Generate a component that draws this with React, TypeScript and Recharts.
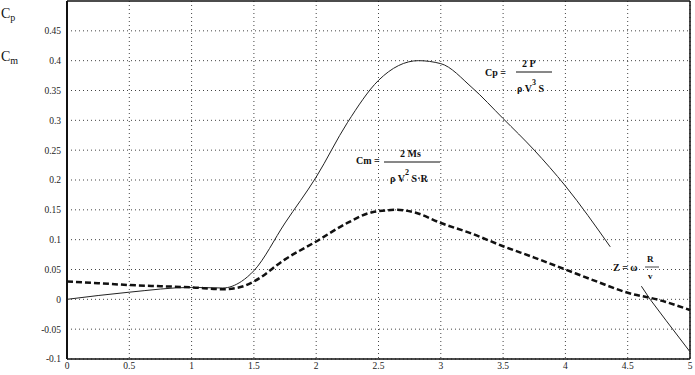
import React from "react";
import {
  LineChart,
  Line,
  XAxis,
  YAxis,
  CartesianGrid,
  ReferenceLine,
  Customized,
} from "recharts";

// Tip speed ratio values (x axis)
const xTicks = [0, 0.5, 1, 1.5, 2, 2.5, 3, 3.5, 4, 4.5, 5];
const yTicks = [-0.1, -0.05, 0, 0.05, 0.1, 0.15, 0.2, 0.25, 0.3, 0.35, 0.4, 0.45];

// Cp curve (power coefficient)
const cpX = [0, 0.5, 1.0, 1.25, 1.4, 1.5, 1.75, 2.0, 2.25, 2.5, 2.82, 3.0, 3.25, 3.5, 3.75, 4.0, 4.36];
const cpY = [0, 0.012, 0.02, 0.019, 0.03, 0.048, 0.128, 0.205, 0.296, 0.367, 0.4, 0.395, 0.355, 0.303, 0.25, 0.19, 0.088];

// Cm curve (moment coefficient)
const cmX = [0, 0.25, 0.5, 0.75, 1.0, 1.25, 1.4, 1.5, 1.75, 2.0, 2.25, 2.45, 2.65, 2.8, 3.0, 3.25, 3.5, 3.75, 4.0, 4.25, 4.5, 4.75, 5.0];
const cmY = [0.03, 0.027, 0.024, 0.022, 0.02, 0.017, 0.021, 0.03, 0.067, 0.097, 0.128, 0.146, 0.15, 0.145, 0.128, 0.11, 0.089, 0.07, 0.05, 0.03, 0.011, -0.001, -0.018];

// Z line segment
const zX = [4.61, 4.68, 4.81, 5.0];
const zY = [0.022, 0.0, -0.036, -0.088];

const cpData = cpX.map((x, i) => ({ x, y: cpY[i] }));
const cmData = cmX.map((x, i) => ({ x, y: cmY[i] }));
const zData = zX.map((x, i) => ({ x, y: zY[i] }));

const FONT = "Liberation Serif, DejaVu Serif, serif";

const fmt = (v: number) => String(Number(v.toFixed(2)));

const Annotations = () => (
  <g fontFamily={FONT} fill="#111" fontWeight="bold">
    {/* axis titles */}
    <text x={1} y={18} fontSize={14} fontWeight="normal">C<tspan fontSize={10} dy={3}>p</tspan></text>
    <text x={1} y={61} fontSize={14} fontWeight="normal">C<tspan fontSize={10} dy={3}>m</tspan></text>

    {/* Cp formula */}
    <text x={485} y={76} fontSize={10}>Cp =</text>
    <text x={522} y={67} fontSize={10}>2 P</text>
    <line x1={516} y1={72} x2={552} y2={72} stroke="#111" strokeWidth={1} />
    <text x={517} y={92} fontSize={10}>ρ V<tspan fontSize={8} dy={-7}>3</tspan><tspan dy={7}> S</tspan></text>

    {/* Cm formula */}
    <text x={356} y={164} fontSize={10}>Cm =</text>
    <text x={400} y={157} fontSize={10}>2 Ms</text>
    <line x1={384} y1={162} x2={440} y2={162} stroke="#111" strokeWidth={1} />
    <text x={390} y={182} fontSize={10}>ρ V<tspan fontSize={8} dy={-7}>2</tspan><tspan dy={7}> S·R</tspan></text>

    {/* Z formula */}
    <text x={613} y={271} fontSize={10}>Z = ω</text>
    <text x={647} y={262} fontSize={9}>R</text>
    <line x1={645} y1={267} x2={659} y2={267} stroke="#111" strokeWidth={0.8} />
    <text x={648} y={279} fontSize={9}>v</text>
  </g>
);

export default function App() {
  return (
    <div style={{ position: "absolute", left: 0, top: 0, background: "#fff" }}>
      <LineChart
        width={695}
        height={375}
        margin={{ top: 1, right: 5, left: 0, bottom: 2 }}
        style={{ fontFamily: FONT }}
      >
        <CartesianGrid
          stroke="#444"
          strokeDasharray="1 3"
          horizontalValues={yTicks}
          verticalValues={xTicks}
        />
        <XAxis
          dataKey="x"
          type="number"
          domain={[0, 5]}
          ticks={xTicks}
          tickFormatter={fmt}
          allowDuplicatedCategory={false}
          height={14}
          tickSize={0}
          tickMargin={3}
          axisLine={{ stroke: "#111", strokeWidth: 1.5 }}
          tick={{ fontSize: 9.5, fill: "#222", fontFamily: FONT }}
          interval={0}
        />
        <YAxis
          type="number"
          domain={[-0.1, 0.5]}
          ticks={yTicks}
          tickFormatter={fmt}
          width={67}
          tickSize={0}
          tickMargin={6}
          axisLine={{ stroke: "#111", strokeWidth: 2 }}
          tick={{ fontSize: 9.5, fill: "#222", fontFamily: FONT }}
          interval={0}
        />
        <ReferenceLine y={0.5} stroke="#111" strokeWidth={1.5} />
        <ReferenceLine x={5} stroke="#111" strokeWidth={1.5} />
        <Line
          data={cpData}
          dataKey="y"
          type="monotone"
          stroke="#222"
          strokeWidth={1}
          dot={false}
          isAnimationActive={false}
        />
        <Line
          data={cmData}
          dataKey="y"
          type="monotone"
          stroke="#111"
          strokeWidth={2.5}
          strokeDasharray="6 3"
          dot={false}
          isAnimationActive={false}
        />
        <Line
          data={zData}
          dataKey="y"
          type="linear"
          stroke="#222"
          strokeWidth={1}
          dot={false}
          isAnimationActive={false}
        />
        <Customized component={Annotations} />
      </LineChart>
    </div>
  );
}
